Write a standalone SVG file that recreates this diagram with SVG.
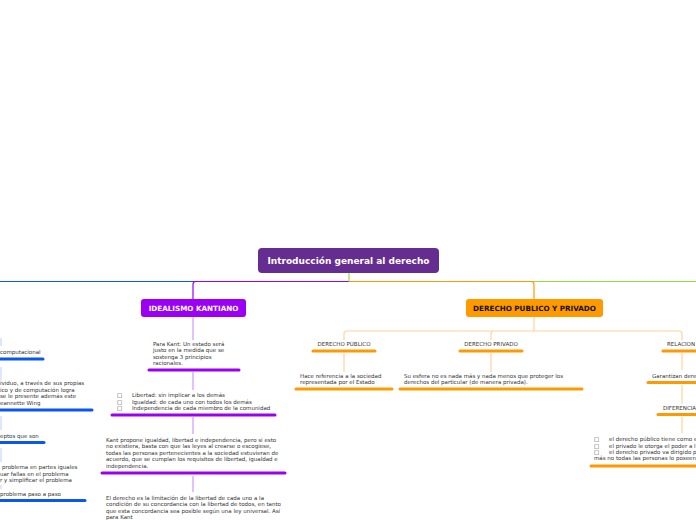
<svg xmlns="http://www.w3.org/2000/svg" width="696" height="520" viewBox="0 0 696 520">
<style>
.t{font-family:"DejaVu Sans",Verdana,sans-serif;font-size:5.5px;fill:#333}
.h{font-family:"DejaVu Sans",Verdana,sans-serif;font-weight:bold;fill:#fff}
.u{fill:none;stroke-width:3;stroke-linecap:round}
.c{fill:none;stroke-width:1.2}
.bl{stroke:#0a56f0}.pu{stroke:#9b00f5}.or{stroke:#ff9900}
.lp{stroke:#d199ff}.lo{stroke:#ffd49a}.lb{stroke:#c8d8ff}
</style>
<rect width="696" height="520" fill="#fff"/>
<g id="connectors">
<path class="c bl" d="M349 281.5H0"/>
<path class="c" stroke="#8fe03a" d="M349 281.5H696"/>
<path class="c or" d="M349 281.5H531a3 3 0 0 1 3 3V299"/>
<path class="c pu" d="M349 281.5H196a3 3 0 0 0-3 3V299"/>
<path class="c" stroke="#8fe03a" d="M349 273V281.5"/>
<path class="c lp" d="M193 317V340M193 372V390M193 417V434M193 476V492"/>
<path class="c lo" d="M534 317V331M347 331H679a3 3 0 0 1 3 3V340M347 331a3 3 0 0 0-3 3V340M494 331a3 3 0 0 0-3 3V340M344 353V372M491 353V372M682 353V370M682 385V404M682 417V433"/>
<path class="c lb" d="M1 338V346M1 367V380M1 416V430M1 448V462M1 485V489"/>
</g>
<g id="root">
<rect x="258" y="248" width="181" height="25" rx="4" fill="#662d91"/>
<text class="h" x="348.5" y="264" font-size="9" text-anchor="middle">Introducción general al derecho</text>
</g>
<g id="idealismo">
<rect x="141" y="299" width="105" height="18" rx="3" fill="#9b00f5"/>
<text class="h" x="193.5" y="310.6" font-size="7.2" text-anchor="middle">IDEALISMO KANTIANO</text>
</g>
<g id="kant1">
<text class="t"><tspan x="153" y="345.5">Para Kant: Un estado será</tspan><tspan x="153" y="352">justo en la medida que se</tspan><tspan x="153" y="358.5">sostenga 3 principios</tspan><tspan x="153" y="365">racionales.</tspan></text>
<path class="u pu" d="M149 370H239"/>
</g>
<g id="kant2">
<text class="t"><tspan x="117" y="397">□</tspan><tspan x="132" y="397">Libertad: sin implicar a los demás</tspan><tspan x="117" y="403.5">□</tspan><tspan x="132" y="403.5">Igualdad: de cada uno con todos los demás</tspan><tspan x="117" y="410">□</tspan><tspan x="132" y="410">Independencia de cada miembro de la comunidad</tspan></text>
<path class="u pu" d="M112 415H275"/>
</g>
<g id="kant3">
<text class="t"><tspan x="106" y="441.5">Kant propone igualdad, libertad e independencia, pero si esto</tspan><tspan x="106" y="448">no existiera, basta con que las leyes al crearse o escogiese,</tspan><tspan x="106" y="454.5">todas las personas pertenecientes a la sociedad estuvieran de</tspan><tspan x="106" y="461">acuerdo, que se cumplan los requisitos de libertad, igualdad e</tspan><tspan x="106" y="467.5">independencia.</tspan></text>
<path class="u pu" d="M102 473H285"/>
</g>
<g id="kant4">
<text class="t"><tspan x="106" y="499.5">El derecho es la limitación de la libertad de cada uno a la</tspan><tspan x="106" y="506">condición de su concordancia con la libertad de todos, en tanto</tspan><tspan x="106" y="512.5">que esta concordancia sea posible según una ley universal. Así</tspan><tspan x="106" y="519">para Kant</tspan></text>
</g>
<g id="dpp">
<rect x="466" y="299" width="137" height="18" rx="3" fill="#ff9900"/>
<text class="h" x="534.5" y="310.6" font-size="7.2" text-anchor="middle" style="fill:#111">DERECHO PUBLICO Y PRIVADO</text>
</g>
<g id="publico">
<text class="t" x="344" y="346" text-anchor="middle">DERECHO PÚBLICO</text>
<path class="u or" d="M313 351H375"/>
</g>
<g id="privado">
<text class="t" x="491" y="346" text-anchor="middle">DERECHO PRIVADO</text>
<path class="u or" d="M460 351H522"/>
</g>
<g id="relacion">
<text class="t" x="667" y="346">RELACION</text>
<path class="u or" d="M663 351H700"/>
</g>
<g id="pub1">
<text class="t"><tspan x="300" y="378">Hace referencia a la sociedad</tspan><tspan x="300" y="384">representada por el Estado</tspan></text>
<path class="u or" d="M296 389H392"/>
</g>
<g id="priv1">
<text class="t"><tspan x="404" y="378">Su esfera no es nada más y nada menos que proteger los</tspan><tspan x="404" y="384">derechos del particular (de manera privada).</tspan></text>
<path class="u or" d="M400 389H582"/>
</g>
<g id="garant">
<text class="t" x="652" y="378">Garantizan dere</text>
<path class="u or" d="M648 382.5H700"/>
</g>
<g id="difer">
<text class="t" x="663" y="410">DIFERENCIA</text>
<path class="u or" d="M658 414.5H700"/>
</g>
<g id="difer1">
<text class="t"><tspan x="594" y="441">□</tspan><tspan x="609" y="441">el derecho público tiene como e</tspan><tspan x="594" y="447.5">□</tspan><tspan x="609" y="447.5">el privado le otorga el poder a l</tspan><tspan x="594" y="454">□</tspan><tspan x="609" y="454">el derecho privado va dirigido p</tspan><tspan x="594" y="460">más no todas las personas lo poseen</tspan></text>
<path class="u or" d="M591 466H700"/>
</g>
<g id="left1">
<text class="t" x="0" y="354">computacional</text>
<path class="u bl" d="M-4 359H43"/>
</g>
<g id="left2">
<text class="t"><tspan x="0" y="385">ividuo, a través de sus propias</tspan><tspan x="0" y="391.5">ico y de computación logra</tspan><tspan x="0" y="398">se le presente además este</tspan><tspan x="0" y="404.5">eannette Wing</tspan></text>
<path class="u bl" d="M-4 410H92"/>
</g>
<g id="left3">
<text class="t" x="0" y="437.5">eptos que son</text>
<path class="u bl" d="M-4 442.5H44"/>
</g>
<g id="left4">
<text class="t"><tspan x="2" y="469">problema en partes iguales</tspan><tspan x="0" y="475.5">uar fallas en el problema</tspan><tspan x="0" y="482">r y simplificar el problema</tspan></text>
</g>
<g id="left5">
<text class="t" x="0" y="495.5">problema paso a paso</text>
<path class="u bl" d="M-4 500.5H85"/>
</g>
</svg>
